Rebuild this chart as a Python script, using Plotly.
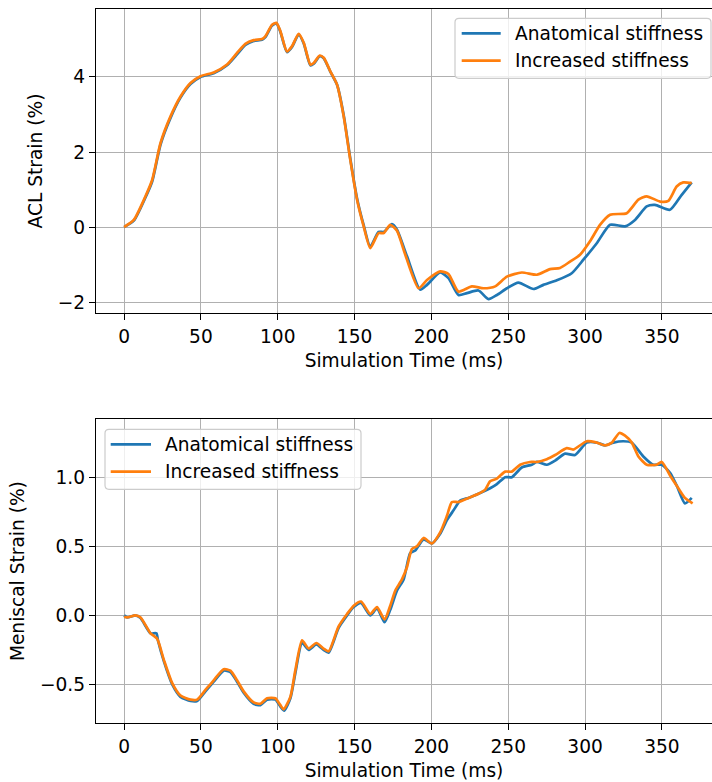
import plotly.graph_objects as go
from plotly.subplots import make_subplots

# ACL strain (%) vs simulation time (ms)
acl_anat_t = [0, 6.3, 13.9, 18.3, 23.7, 30.2, 36.7, 43.2, 49.7, 58.3, 67, 73.5, 78.9, 84.3, 89.8, 91.9,
              96.3, 99.1, 101.7, 106, 109.3, 113.6, 116.9, 121.2, 123.4, 127.3, 129.9, 134.2, 138.6,
              142.9, 147.2, 151.6, 155.9, 160.2, 165.6, 168.9, 174.3, 177.6, 184.1, 192.7, 197.1,
              205.7, 211.1, 217.6, 223.1, 230.6, 237.1, 242.6, 249.1, 256.6, 266.4, 272.9, 281.6,
              291.3, 298.9, 307.6, 316.3, 326, 332.5, 340.1, 345.5, 355.2, 362.9, 369.4]
acl_anat_v = [0, 0.17, 0.79, 1.22, 2.2, 2.91, 3.45, 3.81, 4.0, 4.1, 4.31, 4.6, 4.85, 4.96, 4.99, 5.06,
              5.37, 5.43, 5.2, 4.66, 4.8, 5.13, 4.89, 4.31, 4.35, 4.55, 4.5, 4.14, 3.79, 2.98,
              1.82, 0.76, 0.05, -0.52, -0.13, -0.13, 0.08, -0.07, -0.78, -1.67, -1.54,
              -1.21, -1.36, -1.81, -1.76, -1.69, -1.92, -1.81, -1.63, -1.48, -1.65, -1.54, -1.42,
              -1.23, -0.87, -0.43, 0.06, 0.02, 0.19, 0.55, 0.59, 0.46, 0.86, 1.19]

acl_incr_t = [0, 6.3, 13.9, 18.3, 23.7, 30.2, 36.7, 43.2, 49.7, 58.3, 67, 73.5, 78.9, 84.3, 89.8, 91.9,
              96.3, 99.1, 101.7, 106, 109.3, 113.6, 116.9, 121.2, 123.4, 127.3, 129.9, 134.2, 138.6,
              142.9, 147.2, 151.6, 155.9, 160.2, 165.6, 168.9, 173.2, 177.6, 183, 191.6, 197.1,
              205.7, 211.1, 217.6, 226.3, 233.9, 241.5, 249.1, 258.8, 268.6, 277.2, 283.7, 290.2,
              296.7, 303.2, 309.7, 316.3, 327.1, 334.7, 340.1, 348.8, 354.2, 359.6, 363.9, 369.4]
acl_incr_v = [0, 0.19, 0.82, 1.26, 2.24, 2.95, 3.48, 3.84, 4.02, 4.12, 4.33, 4.64, 4.88, 4.98, 5.01, 5.08,
              5.39, 5.44, 5.22, 4.68, 4.82, 5.15, 4.91, 4.33, 4.37, 4.57, 4.51, 4.15, 3.79, 2.95,
              1.79, 0.73, 0.02, -0.56, -0.16, -0.16, 0.06, -0.1, -0.74, -1.63, -1.41,
              -1.18, -1.25, -1.72, -1.58, -1.63, -1.58, -1.32, -1.21, -1.27, -1.12, -1.09, -0.92,
              -0.74, -0.38, 0.06, 0.33, 0.37, 0.73, 0.82, 0.68, 0.70, 1.08, 1.19, 1.17]

# Meniscal strain (%) vs simulation time (ms)
men_anat_t = [0, 2, 7.4, 10.7, 17.2, 21, 22, 25.8, 31.3, 36.7, 43.2, 47.5, 52.9, 58.3, 64.8, 69.2,
              73.5, 77.8, 84.3, 88.7, 93.0, 98.4, 101.7, 104.2, 108.2, 111.4, 115.8, 120.1, 125.1,
              129.8, 133.1, 139.6, 145.1, 149.4, 154.2, 160.2, 164.6, 169.5, 173.2, 177.6, 181.9,
              186.2, 189.5, 194.9, 200.3, 205.7, 210.1, 214.4, 218.7, 224.1, 230.6, 238.2, 242.6,
              248, 252.3, 258.8, 265.3, 268.6, 275.1, 280.5, 287, 293.5, 301.1, 307.6, 313, 318.4,
              324.9, 330.4, 337.9, 344.4, 349.9, 355.4, 359.6, 365, 369.4]
men_anat_v = [0.0, -0.015, 0.0, -0.02, -0.13, -0.13, -0.18, -0.33, -0.5, -0.59, -0.62, -0.62, -0.55,
              -0.48, -0.4, -0.41, -0.48, -0.56, -0.64, -0.65, -0.61, -0.61, -0.66, -0.69, -0.6, -0.42,
              -0.2, -0.25, -0.21, -0.25, -0.27, -0.09, 0.0, 0.06, 0.09, 0.0, 0.05, -0.05, 0.04,
              0.18, 0.26, 0.45, 0.47, 0.55, 0.52, 0.59, 0.69, 0.76, 0.83, 0.85, 0.88, 0.92, 0.95,
              1.0, 1.0, 1.07, 1.09, 1.11, 1.09, 1.12, 1.17, 1.16, 1.25, 1.25, 1.23, 1.25, 1.26, 1.25,
              1.15, 1.09, 1.09, 1.03, 0.94, 0.81, 0.85]

men_incr_t = [0, 2, 7.4, 10.7, 17.2, 21.5, 25.8, 31.3, 36.7, 43.2, 47.5, 52.9, 58.3, 64.8, 69.2,
              73.5, 77.8, 84.3, 88.7, 93.0, 98.4, 101.7, 103.8, 108.2, 111.4, 115.8, 120.1, 125.1,
              129.8, 133.1, 139.6, 145.1, 149.4, 154.2, 160.2, 164.6, 169.5, 173.2, 176.5, 180.8,
              184.1, 187.3, 190.6, 194.9, 200.3, 205.7, 210.1, 213.3, 217.6, 224.1, 230.6, 235.0,
              238.2, 242.6, 248.0, 252.3, 257.7, 264.2, 268.6, 275.1, 280.5, 288.1, 292.4, 301.1,
              307.6, 313, 317.4, 322.3, 326, 330.4, 334.7, 340.1, 346.6, 349.9, 355.4, 360.7, 365.0, 370]
men_incr_v = [-0.01, -0.015, 0.0, -0.015, -0.13, -0.17, -0.32, -0.49, -0.58, -0.61, -0.61, -0.54,
              -0.47, -0.39, -0.40, -0.47, -0.55, -0.63, -0.64, -0.60, -0.60, -0.65, -0.68, -0.59,
              -0.40, -0.18, -0.24, -0.20, -0.24, -0.26, -0.08, 0.01, 0.07, 0.10, 0.01, 0.06, -0.03,
              0.07, 0.18, 0.26, 0.35, 0.48, 0.50, 0.56, 0.52, 0.60, 0.72, 0.82, 0.82, 0.85, 0.88,
              0.91, 0.97, 0.99, 1.04, 1.04, 1.09, 1.11, 1.11, 1.13, 1.16, 1.21, 1.20, 1.26, 1.25,
              1.23, 1.25, 1.32, 1.30, 1.25, 1.15, 1.09, 1.09, 1.11, 1.01, 0.92, 0.85, 0.81]

series_names = ["Anatomical stiffness", "Increased stiffness"]
colors = ["#1f77b4", "#ff7f0e"]

x_ticks = [0, 50, 100, 150, 200, 250, 300, 350]
acl_ticks = [-2, 0, 2, 4]
men_ticks = [-0.5, 0.0, 0.5, 1.0]

FONT = "DejaVu Sans"
FS = 18.6
GRID = "#b0b0b0"
W, H = 712, 782
ML, MR, MT, MB = 96, 0, 9, 59

fig = make_subplots(rows=2, cols=1)

top = [(acl_anat_t, acl_anat_v), (acl_incr_t, acl_incr_v)]
bot = [(men_anat_t, men_anat_v), (men_incr_t, men_incr_v)]

for row, pairs in ((1, top), (2, bot)):
    for i, (t, v) in enumerate(pairs):
        fig.add_trace(go.Scatter(x=t, y=v, mode="lines", name=series_names[i],
                                 line=dict(color=colors[i], width=2.7, shape="spline", smoothing=0.6),
                                 showlegend=False), row=row, col=1)

axis_common = dict(
    showline=True, linecolor="black", linewidth=1.4,
    ticks="outside", ticklen=6, tickwidth=1.4, tickcolor="black",
    showgrid=True, gridcolor=GRID, gridwidth=1.3,
    zeroline=False,
    tickfont=dict(family=FONT, size=FS, color="black"),
    title_font=dict(family=FONT, size=FS, color="black"),
)

for r in (1, 2):
    fig.update_xaxes(axis_common, row=r, col=1, range=[-18.3, 382.6], tickvals=x_ticks,
                     mirror=True, title_text="Simulation Time (ms)", title_standoff=8)

fig.update_yaxes(axis_common, row=1, col=1, range=[-2.29, 5.81], tickvals=acl_ticks,
                 title_text="ACL Strain (%)", mirror=False, title_standoff=10)
fig.update_yaxes(axis_common, row=2, col=1, range=[-0.779, 1.419], tickvals=men_ticks,
                 tickformat=".1f", title_text="Meniscal Strain (%)", mirror=False, title_standoff=10)

fig.update_layout(yaxis_domain=[0.5742, 1.0], yaxis2_domain=[0.0, 0.4254])

# legend boxes are drawn in paper space; helpers convert pixel offsets to paper fractions
plot_w = W - ML - MR
plot_h = H - MT - MB


def px_x(px):
    return (px - ML) / plot_w


def px_y(py):
    return 1 - (py - MT) / plot_h


def rounded_box(x0, y0, x1, y1, r=4):
    # rectangle with rounded corners as an SVG path in paper coordinates
    return (f"M {px_x(x0 + r)},{px_y(y0)} L {px_x(x1 - r)},{px_y(y0)} "
            f"Q {px_x(x1)},{px_y(y0)} {px_x(x1)},{px_y(y0 + r)} "
            f"L {px_x(x1)},{px_y(y1 - r)} Q {px_x(x1)},{px_y(y1)} {px_x(x1 - r)},{px_y(y1)} "
            f"L {px_x(x0 + r)},{px_y(y1)} Q {px_x(x0)},{px_y(y1)} {px_x(x0)},{px_y(y1 - r)} "
            f"L {px_x(x0)},{px_y(y0 + r)} Q {px_x(x0)},{px_y(y0)} {px_x(x0 + r)},{px_y(y0)} Z")


legend_boxes = [
    dict(box=(455, 18.3, 711, 78.3), line_x=(461.7, 500.7), text_x=513, rows=(33.3, 60.7)),
    dict(box=(105, 429.3, 361, 489.3), line_x=(110.7, 151), text_x=163, rows=(444.3, 471.7)),
]

shapes = []
annotations = []
for lg in legend_boxes:
    x0, y0, x1, y1 = lg["box"]
    shapes.append(dict(type="path", xref="paper", yref="paper", path=rounded_box(x0, y0, x1, y1),
                       fillcolor="rgba(255,255,255,0.8)", line=dict(color="#cccccc", width=1.2),
                       layer="above"))
    for i, ry in enumerate(lg["rows"]):
        shapes.append(dict(type="line", xref="paper", yref="paper",
                           x0=px_x(lg["line_x"][0]), x1=px_x(lg["line_x"][1]),
                           y0=px_y(ry), y1=px_y(ry),
                           line=dict(color=colors[i], width=2.7), layer="above"))
        annotations.append(dict(xref="paper", yref="paper", x=px_x(lg["text_x"]), y=px_y(ry),
                                xanchor="left", yanchor="middle", showarrow=False,
                                text=series_names[i],
                                font=dict(family=FONT, size=FS, color="black")))

fig.update_layout(
    width=W, height=H,
    margin=dict(l=ML, r=MR, t=MT, b=MB),
    paper_bgcolor="white", plot_bgcolor="white",
    font=dict(family=FONT, size=FS, color="black"),
    shapes=shapes, annotations=annotations,
    showlegend=False,
)

fig.write_html("out.html")
